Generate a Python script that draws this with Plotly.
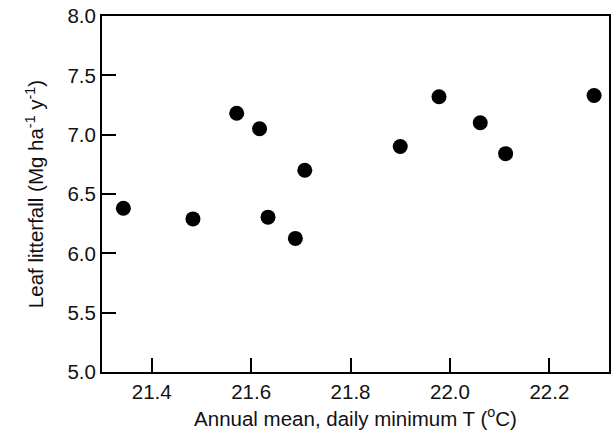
import plotly.graph_objects as go

temp_min = [21.343, 21.483, 21.571, 21.617, 21.634, 21.689, 21.708, 21.900, 21.978, 22.061, 22.112, 22.290]
litterfall = [6.38, 6.29, 7.18, 7.05, 6.305, 6.126, 6.70, 6.90, 7.32, 7.10, 6.84, 7.33]

x_ticks = [21.4, 21.6, 21.8, 22.0, 22.2]
y_ticks = [5.0, 5.5, 6.0, 6.5, 7.0, 7.5, 8.0]

fig = go.Figure()
fig.add_trace(go.Scatter(
    x=temp_min, y=litterfall, mode="markers",
    marker=dict(color="black", size=15, line=dict(width=0)),
    showlegend=False,
))

font = dict(family="Liberation Sans, Arial, sans-serif", size=20.5, color="#111111")

fig.update_layout(
    width=615, height=438,
    margin=dict(l=102, r=4, t=14, b=66),
    paper_bgcolor="white", plot_bgcolor="white",
    font=font,
    xaxis=dict(
        range=[21.3, 22.32], tickvals=x_ticks, ticktext=[f"{v:.1f}" for v in x_ticks],
        ticks="inside", ticklen=14, tickwidth=2, tickcolor="black",
        showline=True, linewidth=2, linecolor="black", mirror=True,
        showgrid=False, zeroline=False,
        title=dict(text="Annual mean, daily minimum T (<sup>o</sup>C)", font=font, standoff=10),
    ),
    yaxis=dict(
        range=[5.0, 8.0], tickvals=y_ticks, ticktext=[f"{v:.1f}" for v in y_ticks],
        ticks="inside", ticklen=14, tickwidth=2, tickcolor="black",
        showline=True, linewidth=2, linecolor="black", mirror=True,
        showgrid=False, zeroline=False,
        title=dict(text="Leaf litterfall (Mg ha<sup>-1</sup> y<sup>-1</sup>)", font=font, standoff=18),
    ),
)

fig.write_html("out.html")
